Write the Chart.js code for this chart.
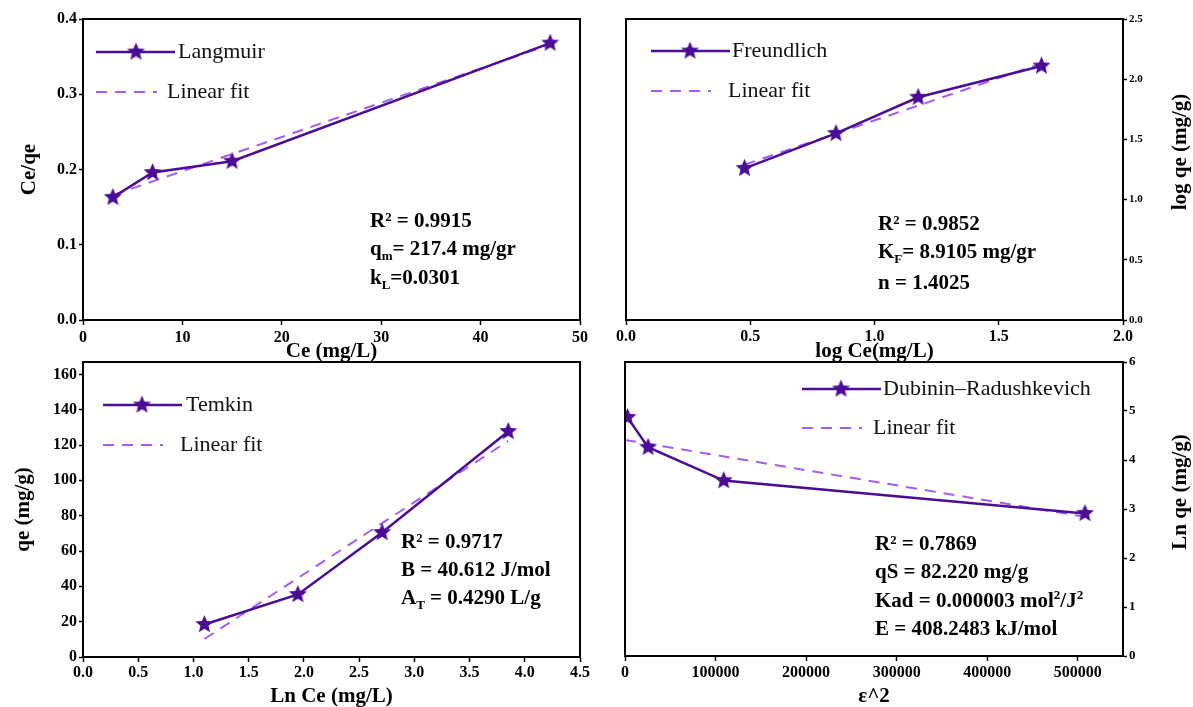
<!DOCTYPE html>
<html>
<head>
<meta charset="utf-8">
<script src="https://cdn.jsdelivr.net/npm/chart.js@4.4.0/dist/chart.umd.min.js"></script>
<style>
  body { margin: 0; background: #fff; }
  #wrap { position: relative; width: 1193px; height: 707px; overflow: hidden; background: #fff; }
  #wrap canvas { position: absolute; }
</style>
</head>
<body>
<div id="wrap">
  <canvas id="langmuir" width="600" height="365" style="left:0;top:0"></canvas>
  <canvas id="freundlich" width="593" height="365" style="left:600px;top:0"></canvas>
  <canvas id="temkin" width="600" height="362" style="left:0;top:345px"></canvas>
  <canvas id="dr" width="593" height="362" style="left:600px;top:345px"></canvas>
</div>
<script>
// Langmuir : Ce/qe vs Ce
const langX = [3, 7, 15, 47];
const langY = [0.163, 0.196, 0.211, 0.368];
const langFitX = [3, 47];
const langFitY = [0.166, 0.366];
const langXTicks = [0, 10, 20, 30, 40, 50];
const langYTicks = [0, 0.1, 0.2, 0.3, 0.4];

// Freundlich : log qe vs log Ce
const frX = [0.477, 0.845, 1.176, 1.672];
const frY = [1.26, 1.55, 1.85, 2.11];
const frFitX = [0.477, 1.672];
const frFitY = [1.29, 2.13];
const frXTicks = [0, 0.5, 1.0, 1.5, 2.0];
const frYTicks = [0, 0.5, 1.0, 1.5, 2.0, 2.5];

// Temkin : qe vs Ln Ce
const temX = [1.099, 1.946, 2.708, 3.850];
const temY = [18.4, 35.4, 70.5, 127.7];
const temFitX = [1.099, 3.850];
const temFitY = [10.2, 122.3];
const temXTicks = [0, 0.5, 1.0, 1.5, 2.0, 2.5, 3.0, 3.5, 4.0, 4.5];
const temYTicks = [0, 20, 40, 60, 80, 100, 120, 140, 160];

// Dubinin-Radushkevich : Ln qe vs eps^2
const drX = [2700, 25500, 109000, 508000];
const drY = [4.87, 4.26, 3.58, 2.91];
const drFitX = [0, 508000];
const drFitY = [4.41, 2.84];
const drXTicks = [0, 100000, 200000, 300000, 400000, 500000];
const drYTicks = [0, 1, 2, 3, 4, 5, 6];

const MAIN = '#4b0c96';
const FIT = '#a35cf5';
const SERIF = "'Liberation Serif', 'Times New Roman', serif";
Chart.defaults.color = '#000';

// filled five point star used as point style
function makeStar(R, color) {
  const c = document.createElement('canvas');
  c.width = c.height = Math.ceil(R * 2 + 2);
  const g = c.getContext('2d');
  const cx = c.width / 2, cy = c.height / 2, r = R * 0.45;
  g.beginPath();
  for (let i = 0; i < 10; i++) {
    const a = -Math.PI / 2 + i * Math.PI / 5;
    const rr = i % 2 ? r : R;
    g.lineTo(cx + rr * Math.cos(a), cy + rr * Math.sin(a));
  }
  g.closePath();
  g.fillStyle = color;
  g.fill();
  return c;
}
const star = makeStar(9.5, MAIN);

const fix1 = v => Number(v).toFixed(1);
const plain = v => String(v);

function xAxis(min, max, ticks, fmt, title, tickPad, titlePad, h) {
  return {
    type: 'linear', position: 'bottom', min: min, max: max,
    afterBuildTicks: s => { s.ticks = ticks.map(v => ({ value: v })); },
    afterFit: s => { s.height = h; },
    grid: { drawOnChartArea: false, drawTicks: true, tickLength: 5, tickWidth: 1.5, color: '#000' },
    border: { display: true, color: '#000', width: 2 },
    ticks: { font: { family: SERIF, size: 16, weight: 'bold' }, padding: tickPad, callback: fmt, maxRotation: 0, autoSkip: false },
    title: { display: true, text: title, font: { family: SERIF, size: 21, weight: 'bold', lineHeight: 1 }, padding: { top: 0, bottom: titlePad } }
  };
}

function yAxis(pos, min, max, ticks, fmt, title, w, fsize, titlePad) {
  return {
    type: 'linear', position: pos, min: min, max: max,
    afterBuildTicks: s => { s.ticks = ticks.map(v => ({ value: v })); },
    afterFit: s => { s.width = w; },
    grid: { drawOnChartArea: false, drawTicks: true, tickLength: 4, tickWidth: 1.5, color: '#000' },
    border: { display: true, color: '#000', width: 2 },
    ticks: { font: { family: SERIF, size: fsize, weight: 'bold' }, padding: 2, callback: fmt, autoSkip: false },
    title: { display: !!title, text: title || '', font: { family: SERIF, size: 21, weight: 'bold', lineHeight: 1 }, padding: { top: titlePad || 0, bottom: 0 } }
  };
}

function richLine(ctx, parts, x, y) {
  for (const [t, mode] of parts) {
    if (mode === 'sub') {
      ctx.font = 'bold 13px ' + SERIF;
      ctx.fillText(t, x, y + 7);
    } else if (mode === 'sup') {
      ctx.font = 'bold 13px ' + SERIF;
      ctx.fillText(t, x, y - 6);
    } else {
      ctx.font = 'bold 21px ' + SERIF;
      ctx.fillText(t, x, y);
    }
    x += ctx.measureText(t).width;
  }
}

// frame, legend, annotation and right-hand title, all in page coordinates
function decor(p) {
  return {
    id: 'decor',
    afterDraw(chart) {
      const ctx = chart.ctx, a = chart.chartArea;
      ctx.save();
      ctx.strokeStyle = '#000';
      ctx.lineWidth = 2;
      ctx.strokeRect(a.left, a.top, a.right - a.left, a.bottom - a.top);
      ctx.translate(-p.ox, -p.oy);

      const L = p.legend;
      ctx.strokeStyle = MAIN; ctx.lineWidth = 2.5; ctx.setLineDash([]);
      ctx.beginPath(); ctx.moveTo(L.x0, L.y1); ctx.lineTo(L.x1, L.y1); ctx.stroke();
      ctx.drawImage(star, L.sx - star.width / 2, L.y1 - star.height / 2);
      ctx.strokeStyle = FIT; ctx.lineWidth = 2; ctx.setLineDash([11, 8]);
      ctx.beginPath(); ctx.moveTo(L.x0, L.y2); ctx.lineTo(L.x2, L.y2); ctx.stroke();
      ctx.setLineDash([]);
      ctx.fillStyle = '#111';
      ctx.textBaseline = 'middle'; ctx.textAlign = 'left';
      ctx.font = '22px ' + SERIF;
      ctx.fillText(p.name, L.t1, L.y1);
      ctx.fillText('Linear fit', L.t2, L.y2);

      ctx.fillStyle = '#000';
      p.notes.forEach((parts, i) => richLine(ctx, parts, p.noteX, p.noteY[i]));

      if (p.rightTitle) {
        ctx.save();
        ctx.translate(p.rightTitle.x, p.rightTitle.y);
        ctx.rotate(-Math.PI / 2);
        ctx.textAlign = 'center';
        ctx.font = 'bold 21px ' + SERIF;
        ctx.fillText(p.rightTitle.text, 0, 0);
        ctx.restore();
      }
      ctx.restore();
    }
  };
}

function panel(id, p) {
  return new Chart(document.getElementById(id), {
    type: 'scatter',
    data: {
      datasets: [
        { data: p.x.map((v, i) => ({ x: v, y: p.y[i] })), showLine: true, borderColor: MAIN, backgroundColor: MAIN,
          borderWidth: 2.5, pointStyle: star, order: 0 },
        { data: p.fx.map((v, i) => ({ x: v, y: p.fy[i] })), showLine: true, borderColor: FIT,
          borderWidth: 2, borderDash: [11, 8], pointRadius: 0, order: 1 }
      ]
    },
    options: {
      responsive: false, animation: false, devicePixelRatio: 1,
      layout: { padding: p.pad },
      plugins: { legend: { display: false }, tooltip: { enabled: false } },
      scales: { x: p.xs, y: p.ys }
    },
    plugins: [decor(p)]
  });
}

panel('langmuir', {
  x: langX, y: langY, fx: langFitX, fy: langFitY, name: 'Langmuir', ox: 0, oy: 0,
  pad: { left: 0, top: 19, right: 20, bottom: 0 },
  xs: xAxis(0, 50, langXTicks, plain, 'Ce (mg/L)', 3, 2.5, 45),
  ys: yAxis('left', 0, 0.4, langYTicks, fix1, 'Ce/qe', 83, 16, 19.5),
  legend: { x0: 96, x1: 175, sx: 136, y1: 52, t1: 178, x2: 157, y2: 92, t2: 167 },
  noteX: 370, noteY: [222, 250, 279],
  notes: [
    [['R² = 0.9915']],
    [['q'], ['m', 'sub'], ['= 217.4 mg/gr']],
    [['k'], ['L', 'sub'], ['=0.0301']]
  ]
});

panel('freundlich', {
  x: frX, y: frY, fx: frFitX, fy: frFitY, name: 'Freundlich', ox: 600, oy: 0,
  pad: { left: 26, top: 19, right: 0, bottom: 0 },
  xs: xAxis(0, 2, frXTicks, fix1, 'log Ce(mg/L)', 2, 2.5, 45),
  ys: yAxis('right', 0, 2.5, frYTicks, fix1, null, 70, 11),
  legend: { x0: 651, x1: 730, sx: 690, y1: 51, t1: 732, x2: 711, y2: 91, t2: 728 },
  noteX: 878, noteY: [225, 253, 284],
  notes: [
    [['R² = 0.9852']],
    [['K'], ['F', 'sub'], ['= 8.9105 mg/gr']],
    [['n = 1.4025']]
  ],
  rightTitle: { text: 'log qe (mg/g)', x: 1181, y: 152 }
});

panel('temkin', {
  x: temX, y: temY, fx: temFitX, fy: temFitY, name: 'Temkin', ox: 0, oy: 345,
  pad: { left: 0, top: 17, right: 20, bottom: 0 },
  xs: xAxis(0, 4.5, temXTicks, fix1, 'Ln Ce (mg/L)', 1, 0, 50),
  ys: yAxis('left', 0, 167, temYTicks, plain, 'qe (mg/g)', 83, 16, 13.5),
  legend: { x0: 103, x1: 182, sx: 142, y1: 405, t1: 186, x2: 163, y2: 445, t2: 180 },
  noteX: 401, noteY: [543, 571, 599],
  notes: [
    [['R² = 0.9717']],
    [['B = 40.612 J/mol']],
    [['A'], ['T', 'sub'], [' = 0.4290 L/g']]
  ]
});

panel('dr', {
  x: drX, y: drY, fx: drFitX, fy: drFitY, name: 'Dubinin\u2013Radushkevich', ox: 600, oy: 345,
  pad: { left: 25, top: 17, right: 0, bottom: 0 },
  xs: xAxis(0, 550000, drXTicks, plain, 'ε^2', 2, 0, 51),
  ys: yAxis('right', 0, 6, drYTicks, plain, null, 70, 13),
  legend: { x0: 802, x1: 881, sx: 841, y1: 389, t1: 883, x2: 862, y2: 428, t2: 873 },
  noteX: 875, noteY: [545, 573, 602, 630],
  notes: [
    [['R² = 0.7869']],
    [['qS = 82.220 mg/g']],
    [['Kad = 0.000003 mol'], ['2', 'sup'], ['/J'], ['2', 'sup']],
    [['E = 408.2483 kJ/mol']]
  ],
  rightTitle: { text: 'Ln qe (mg/g)', x: 1181, y: 492 }
});
</script>
</body>
</html>
